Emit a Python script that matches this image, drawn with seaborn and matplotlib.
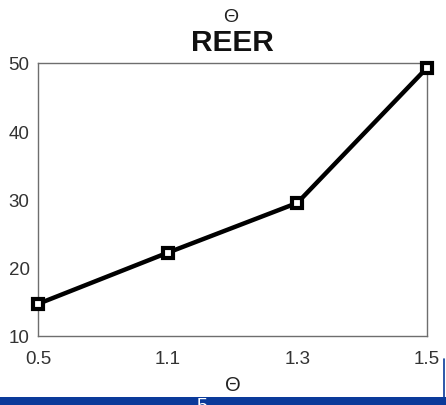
import matplotlib
matplotlib.use("Agg")
import matplotlib.pyplot as plt
from matplotlib.lines import Line2D
from matplotlib.patches import Rectangle
import seaborn as sns
import pandas as pd

# Data
theta = ["0.5", "1.1", "1.3", "1.5"]
reer = [14.7, 22.2, 29.5, 49.3]
y_ticks = [10, 20, 30, 40, 50]

sns.set_theme(style="white")
plt.rcParams["font.family"] = ["Liberation Sans", "DejaVu Sans"]

df = pd.DataFrame({"theta": theta, "reer": reer})

fig = plt.figure(figsize=(4.46, 4.06), dpi=100)
ax = fig.add_axes([0.0852, 0.1700, 0.8722, 0.6724])

sns.pointplot(data=df, x="theta", y="reer", order=theta, color="black",
              markers="s", linestyles="-", ax=ax,
              markersize=7.5, markeredgewidth=3.0, linewidth=3.2)
for ln in ax.lines:
    ln.set_markerfacecolor("white")
    ln.set_markeredgecolor("black")
    ln.set_clip_on(False)
    ln.set_zorder(5)

ax.set_xlim(0, len(theta) - 1)
ax.set_ylim(10, 50)
ax.set_yticks(y_ticks)
ax.set_xticks(range(len(theta)))
ax.set_xticklabels(theta)
ax.tick_params(axis="both", length=0, labelsize=13.5, labelcolor="#333333")
ax.tick_params(axis="y", pad=6)
ax.tick_params(axis="x", pad=10)
for sp in ax.spines.values():
    sp.set_color("#6e6e6e")
    sp.set_linewidth(1.0)
ax.set_ylabel("")
ax.set_xlabel("Θ", fontsize=14.5, color="#222222", labelpad=6)

# Title with the symbol above it
ax.set_title("REER", fontsize=21.5, fontweight="bold", color="#111111", pad=9)
fig.text(231 / 446, 1 - 17 / 406, "Θ", fontsize=14, ha="center", va="center", color="#222222")

# Footer band of the slide
blue = "#0a3a9a"
fig.add_artist(Rectangle((0, 0), 1, 8.5 / 406, transform=fig.transFigure,
                         facecolor=blue, edgecolor="none"))
fig.add_artist(Line2D([444 / 446, 444 / 446], [8 / 406, 46 / 406],
                      transform=fig.transFigure, color=blue, linewidth=1.2))
fig.text(202 / 446, 1 - 398 / 406, "5", fontsize=14, color="white",
         ha="center", va="top")

fig.savefig("out.png", dpi=100)
